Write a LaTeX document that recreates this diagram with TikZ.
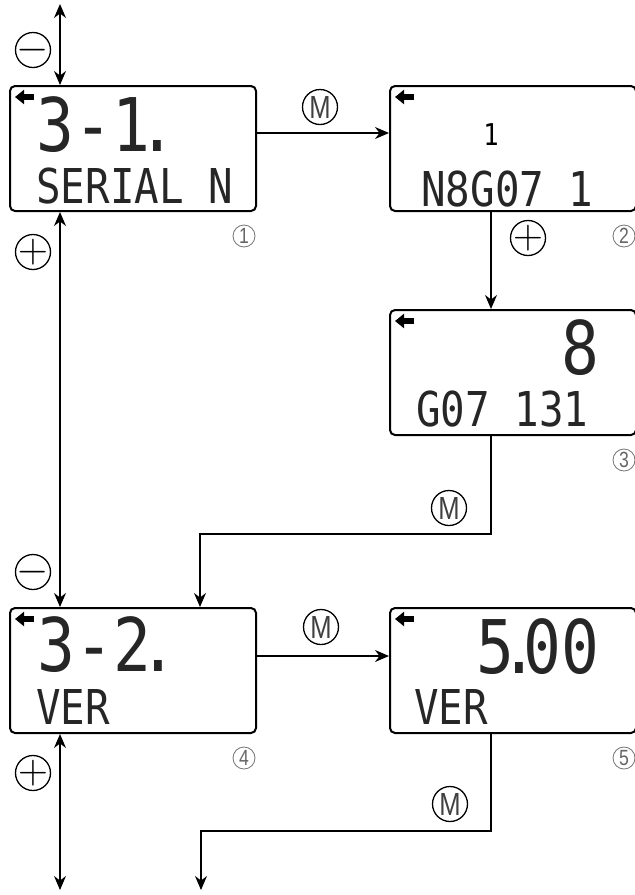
\documentclass[tikz,border=0pt]{standalone}
\usepackage{fontspec}
\usepackage{tikz}
\usetikzlibrary{arrows.meta,positioning}
\newfontfamily\lcdfont[FakeStretch=0.85]{DejaVu Sans Mono}
\newfontfamily\keyfont[FakeStretch=0.8]{Liberation Sans}

\begin{document}
\begin{tikzpicture}[
        x=0.5pt, y=0.5pt,
        box/.style={draw, line width=1pt, rounded corners=2.5pt, minimum width=123pt, minimum height=62.5pt, inner sep=0pt},
        big/.style={font=\lcdfont\fontsize{37}{37}\selectfont, text=black!85, inner sep=0pt},
        small/.style={font=\lcdfont\fontsize{24}{24}\selectfont, text=black!85, inner sep=0pt},
        btn/.style={draw, circle, line width=0.65pt, minimum size=17.5pt, inner sep=0pt},
        sign/.style={font=\fontsize{20}{20}\selectfont, inner sep=0pt},
        keyM/.style={font=\keyfont\fontsize{16}{16}\selectfont, text=black!75, inner sep=0pt},
        num/.style={draw=black!55, circle, line width=0.4pt, minimum size=11pt, inner sep=0pt, font=\keyfont\fontsize{11}{11}\selectfont, text=black!60},
        ind/.style={-{Triangle[length=4.5pt,width=7pt]}, line width=3pt},
        arr/.style={-{Stealth[length=7pt,width=6pt]}, line width=0.7pt},
        dbl/.style={{Stealth[length=7pt,width=6pt]}-{Stealth[length=7pt,width=6pt]}, line width=0.7pt}
    ]
    \useasboundingbox (0,0) rectangle (635,-895);
    \node[box] (s1) at (133,-148.5) {};
    \node[box, right=66pt of s1] (s2) {};
    \node[box, below=48.5pt of s2] (s3) {};
    \node[box, below=197.5pt of s1] (s4) {};
    \node[box, right=66pt of s4] (s5) {};
    \foreach \b in {s1,s2,s3,s4,s5}
        \draw[ind] ([xshift=12.5pt,yshift=-6pt]\b.north west) -- ++(-19,0);

    \node[big, below right=5.5pt and 13.5pt of s1.north west] (t1) {3-1\kern-6pt.};
    \node[small, below right=41pt and 13.5pt of s1.north west] (b1) {SERIAL N};
    \node[font=\lcdfont\fontsize{15}{15}\selectfont, inner sep=0pt] (t2) at ([xshift=51pt,yshift=-25pt]s2.north west) {1};
    \node[small, below right=42.5pt and 16pt of s2.north west] (b2) {N8G07 1};
    \node[big, below left=5pt and 18.5pt of s3.north east] (t3) {8};
    \node[small, below right=40.5pt and 13.5pt of s3.north west] (b3) {G07 131};
    \node[big, below right=4.5pt and 14pt of s4.north west] (t4) {3-2\kern-6pt.};
    \node[small, below right=41pt and 13.5pt of s4.north west] (b4) {VER};
    \node[big, below left=5.5pt and 18.5pt of s5.north east] (t5) {5\kern-7pt.\kern-7pt00};
    \node[small, below right=41pt and 12.5pt of s5.north west] (b5) {VER};

    \coordinate (top) at (60,-4);
    \coordinate (bot) at (60,-890);
    \coordinate (out) at (201,-890);
    \draw[dbl] (top) -- (top |- s1.north);
    \draw[dbl] (top |- s1.south) -- (top |- s4.north);
    \draw[dbl] (top |- s4.south) -- (bot);
    \draw[arr] ([yshift=-24pt]s1.north east) -- ([yshift=-24pt]s2.north west);
    \draw[arr] ([xshift=51pt]s2.south west) -- ([xshift=51pt]s3.north west);
    \draw[arr] ([xshift=51pt]s3.south west) -- ++(0,-98) -| ([xshift=95.5pt]s4.north west);
    \draw[arr] ([yshift=-24.5pt]s4.north east) -- ([yshift=-24.5pt]s5.north west);
    \draw[arr] ([xshift=51pt]s5.south west) -- ++(0,-97) -| (out);

    \node[btn, label={[sign]center:$-$}] (k1) at (33,-50) {};
    \node[btn, label={[sign]center:$+$}] (k2) at (33,-252) {};
    \node[btn, label={[keyM]center:M}] (m1) at (320,-107) {};
    \node[btn, label={[sign]center:$+$}] (k3) at (528,-238) {};
    \node[btn, label={[keyM]center:M}] (m2) at (449,-508) {};
    \node[btn, label={[sign]center:$-$}] (k4) at (33,-572) {};
    \node[btn, label={[keyM]center:M}] (m3) at (321,-627) {};
    \node[btn, label={[sign]center:$+$}] (k5) at (33,-773) {};
    \node[btn, label={[keyM]center:M}] (m4) at (450,-804) {};

    \foreach \b [count=\i] in {s1,s2,s3,s4,s5}
        \node[num] (n\i) at ([xshift=-6.5pt,yshift=-12pt]\b.south east) {\i};
\end{tikzpicture}
\end{document}
